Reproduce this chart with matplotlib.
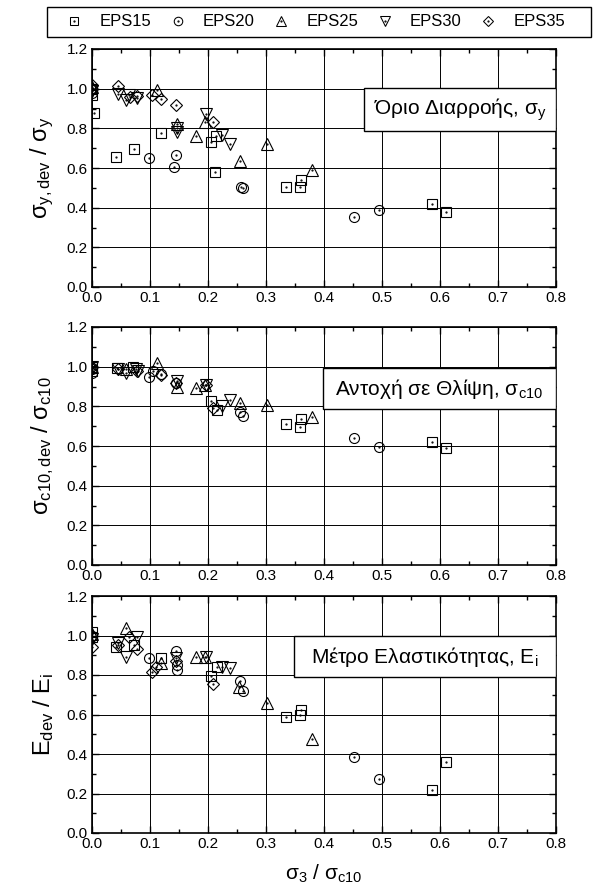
import matplotlib
matplotlib.use("Agg")
import matplotlib.pyplot as plt
from matplotlib.patches import Rectangle
from matplotlib.lines import Line2D

plt.rcParams["font.family"] = ["Liberation Sans", "DejaVu Sans"]
plt.rcParams["mathtext.fontset"] = "custom"
plt.rcParams["mathtext.rm"] = "Liberation Sans"
plt.rcParams["mathtext.it"] = "Liberation Sans"
plt.rcParams["mathtext.default"] = "regular"

series = ["EPS15", "EPS20", "EPS25", "EPS30", "EPS35"]

# panel 1: yield stress ratio
sy_x = {
    "EPS15": [0, 0, 0.004, 0.041, 0.072, 0.119, 0.206, 0.212, 0.214, 0.334, 0.359, 0.361, 0.587, 0.61],
    "EPS20": [0, 0, 0.098, 0.144, 0.141, 0.257, 0.261, 0.451, 0.495],
    "EPS25": [0, 0.112, 0.146, 0.179, 0.194, 0.255, 0.301, 0.38],
    "EPS30": [0, 0.045, 0.058, 0.064, 0.077, 0.146, 0.146, 0.196, 0.224, 0.238],
    "EPS35": [0, 0, 0.044, 0.065, 0.077, 0.103, 0.119, 0.144, 0.209],
}
sy_y = {
    "EPS15": [1.0, 0.97, 0.878, 0.653, 0.697, 0.774, 0.732, 0.578, 0.76, 0.502, 0.505, 0.542, 0.417, 0.379],
    "EPS20": [1.0, 0.98, 0.651, 0.668, 0.606, 0.505, 0.50, 0.351, 0.388],
    "EPS25": [1.01, 0.992, 0.821, 0.762, 0.834, 0.636, 0.719, 0.589],
    "EPS30": [0.99, 0.975, 0.945, 0.966, 0.955, 0.782, 0.80, 0.872, 0.766, 0.72],
    "EPS35": [1.0, 1.02, 1.014, 0.96, 0.962, 0.967, 0.950, 0.92, 0.833],
}

# panel 2: compressive strength ratio
sc_x = {
    "EPS15": [0, 0, 0.043, 0.071, 0.206, 0.215, 0.334, 0.359, 0.361, 0.587, 0.61],
    "EPS20": [0, 0, 0.098, 0.106, 0.119, 0.144, 0.255, 0.26, 0.451, 0.495],
    "EPS25": [0, 0.058, 0.112, 0.146, 0.179, 0.194, 0.255, 0.301, 0.38],
    "EPS30": [0, 0.044, 0.058, 0.076, 0.08, 0.146, 0.196, 0.224, 0.238],
    "EPS35": [0, 0.044, 0.077, 0.119, 0.144, 0.196, 0.209],
}
sc_y = {
    "EPS15": [1.0, 0.98, 0.992, 1.0, 0.827, 0.78, 0.711, 0.697, 0.735, 0.622, 0.592],
    "EPS20": [0.99, 0.97, 0.95, 0.976, 0.963, 0.916, 0.773, 0.751, 0.642, 0.597],
    "EPS25": [1.0, 0.99, 1.02, 0.90, 0.894, 0.908, 0.815, 0.807, 0.748],
    "EPS30": [1.0, 0.99, 0.97, 0.99, 0.98, 0.93, 0.91, 0.80, 0.832],
    "EPS35": [1.0, 0.99, 0.98, 0.96, 0.92, 0.91, 0.79],
}

# panel 3: elastic modulus ratio
ei_x = {
    "EPS15": [0, 0, 0.041, 0.072, 0.119, 0.206, 0.215, 0.334, 0.359, 0.361, 0.587, 0.61],
    "EPS20": [0, 0.099, 0.144, 0.146, 0.147, 0.255, 0.26, 0.451, 0.495],
    "EPS25": [0, 0.058, 0.119, 0.179, 0.194, 0.254, 0.301, 0.38],
    "EPS30": [0, 0.045, 0.058, 0.077, 0.144, 0.196, 0.224, 0.238],
    "EPS35": [0, 0.045, 0.064, 0.077, 0.103, 0.11, 0.144, 0.209],
}
ei_y = {
    "EPS15": [1.02, 0.99, 0.943, 0.952, 0.884, 0.795, 0.842, 0.586, 0.597, 0.623, 0.218, 0.361],
    "EPS20": [1.0, 0.884, 0.921, 0.85, 0.825, 0.77, 0.719, 0.386, 0.272],
    "EPS25": [1.01, 1.036, 0.86, 0.893, 0.893, 0.741, 0.66, 0.474],
    "EPS30": [0.98, 0.96, 0.893, 0.994, 0.884, 0.893, 0.838, 0.834],
    "EPS35": [0.94, 0.95, 0.994, 0.93, 0.817, 0.84, 0.87, 0.753],
}

markers = {"EPS15": ("s", 7.2), "EPS20": ("o", 7.2), "EPS25": ("^", 9),
           "EPS30": ("v", 9), "EPS35": ("D", 6.5)}

panels = [
    (sy_x, sy_y, r"$σ_{y,dev}$ / $σ_y$", "Όριο Διαρροής, $σ_y$", (0.586, 0.655, 0.836)),
    (sc_x, sc_y, r"$σ_{c10,dev}$ / $σ_{c10}$", "Αντοχή σε Θλίψη, $σ_{c10}$", (0.498, 0.655, 0.828)),
    (ei_x, ei_y, r"$E_{dev}$ / $E_i$", "Μέτρο Ελαστικότητας, $E_i$", (0.435, 0.658, 0.831)),
]

fig = plt.figure(figsize=(5.93, 8.94), dpi=100)
W, H = 593, 894
axes_px = [(49, 287), (327, 565), (596, 833)]

handles = []
for i, ((xs, ys, ylab, box_txt, (bx0, by0, by1)), (top, bot)) in enumerate(zip(panels, axes_px)):
    ax = fig.add_axes([92 / W, 1 - bot / H, 464 / W, (bot - top) / H])
    for s in series:
        m, ms = markers[s]
        ax.plot(xs[s], ys[s], linestyle="none", marker=m, markersize=ms,
                markerfacecolor="none", markeredgecolor="black", markeredgewidth=0.8, zorder=3)
        ax.plot(xs[s], ys[s], linestyle="none", marker=".", markersize=1.2,
                color="black", zorder=3)
        if i == 0:
            h1 = Line2D([], [], linestyle="none", marker=m, markersize=ms * 0.85,
                        markerfacecolor="none", markeredgecolor="black", markeredgewidth=0.75)
            h2 = Line2D([], [], linestyle="none", marker=".", markersize=1.2, color="black")
            handles.append((h1, h2))
    ax.set_xlim(0, 0.8)
    ax.set_ylim(0, 1.2)
    ax.set_xticks([0.0, 0.1, 0.2, 0.3, 0.4, 0.5, 0.6, 0.7, 0.8])
    ax.set_xticks([0.05, 0.15, 0.25, 0.35, 0.45, 0.55, 0.65, 0.75], minor=True)
    ax.set_yticks([0.0, 0.2, 0.4, 0.6, 0.8, 1.0, 1.2])
    ax.set_yticks([0.1, 0.3, 0.5, 0.7, 0.9, 1.1], minor=True)
    ax.xaxis.set_major_formatter(plt.FormatStrFormatter("%.1f"))
    ax.yaxis.set_major_formatter(plt.FormatStrFormatter("%.1f"))
    ax.tick_params(which="both", direction="in", top=True, right=True, labelsize=11, width=1)
    ax.tick_params(which="major", length=5, pad=3)
    ax.tick_params(which="minor", length=3)
    ax.grid(True, which="major", color="black", linewidth=0.7)
    ax.set_axisbelow(True)
    for sp in ax.spines.values():
        sp.set_linewidth(1.2)
    ax.set_ylabel(ylab, fontsize=17, labelpad=8)

    ax.add_patch(Rectangle((bx0, by0), 1 - bx0, by1 - by0, transform=ax.transAxes,
                           facecolor="white", edgecolor="black", linewidth=1, zorder=5))
    ax.text((bx0 + 1) / 2, (by0 + by1) / 2, box_txt, transform=ax.transAxes,
            ha="center", va="center", fontsize=15, zorder=6)
    if i == 2:
        ax.set_xlabel(r"$σ_3$ / $σ_{c10}$", fontsize=15, labelpad=8)

# legend frame across the top
fig.patches.append(Rectangle((47 / W, 1 - 37 / H), 544 / W, 30 / H, transform=fig.transFigure,
                             facecolor="white", edgecolor="black", linewidth=1, zorder=0))
fig.legend(handles, series, loc="center left", bbox_to_anchor=(66 / W, 1 - 22 / H),
           ncol=5, frameon=False, fontsize=12, handlelength=1.0, handletextpad=1.0,
           columnspacing=1.1, borderpad=0.0, borderaxespad=0.0)

fig.savefig("out.png", dpi=100)
